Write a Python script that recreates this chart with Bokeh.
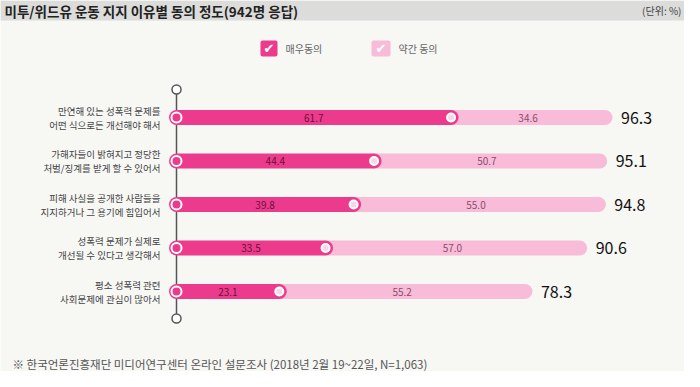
from bokeh.plotting import figure
from bokeh.models import ColumnDataSource, Range1d, Label, BoxAnnotation
from bokeh.core.properties import value
from bokeh.embed import file_html
from bokeh.resources import INLINE

# ---- data ----
reason_line1 = ["만연해 있는 성폭력 문제를", "가해자들이 밝혀지고 정당한", "피해 사실을 공개한 사람들을",
                "성폭력 문제가 실제로", "평소 성폭력 관련"]
reason_line2 = ["어떤 식으로든 개선해야 해서", "처벌/징계를 받게 할 수 있어서", "지지하거나 그 용기에 힘입어서",
                "개선될 수 있다고 생각해서", "사회문제에 관심이 많아서"]
strongly_agree = [61.7, 44.4, 39.8, 33.5, 23.1]
somewhat_agree = [34.6, 50.7, 55.0, 57.0, 55.2]
total_agree = [96.3, 95.1, 94.8, 90.6, 78.3]
series_names = ["매우동의", "약간 동의"]
title_text = "미투/위드유 운동 지지 이유별 동의 정도(942명 응답)"
unit_text = "(단위: %)"
source_text = "※  한국언론진흥재단 미디어연구센터 온라인 설문조사 (2018년 2월 19~22일, N=1,063)"

FONT = "Noto Sans CJK KR"
DARK = "#ec3b8c"
LIGHT = "#f8bcd8"
BG = "#f7f7f4"

W, H = 684, 371
K = 4.45      # px per percent
X0 = 176      # px of zero
Y0 = 117      # px of first row
DY = 43.5     # px between rows

ypos = list(range(len(strongly_agree)))
src = ColumnDataSource(dict(
    y=ypos,
    strong=strongly_agree,
    some=somewhat_agree,
    total=total_agree,
    mid_strong=[s / 2 for s in strongly_agree],
    mid_some=[s + m / 2 for s, m in zip(strongly_agree, somewhat_agree)],
    s_lbl=[f"{v:.1f}" for v in strongly_agree],
    m_lbl=[f"{v:.1f}" for v in somewhat_agree],
    t_lbl=[f"{v:.1f}" for v in total_agree],
    l1=reason_line1,
    l2=reason_line2,
    zero=[0] * len(ypos),
))

p = figure(width=W, height=H, output_backend="svg", toolbar_location=None,
           x_range=Range1d(-X0 / K, (W - X0) / K),
           y_range=Range1d((H - Y0) / DY, -Y0 / DY),
           x_axis_location=None, y_axis_location=None, min_border=0)
p.grid.visible = False
p.outline_line_color = None
p.background_fill_color = BG
p.border_fill_color = BG

# title band
p.add_layout(BoxAnnotation(left=0, right=W, top=H, bottom=H - 20,
                           left_units="screen", right_units="screen",
                           top_units="screen", bottom_units="screen",
                           fill_color="#dcdcda", fill_alpha=1, line_color=None))
p.add_layout(Label(x=4, y=H - 10, x_units="screen", y_units="screen", text=title_text,
                   text_font=FONT, text_font_size="13.5px", text_font_style="bold",
                   text_color="#222222", text_baseline="middle"))
p.add_layout(Label(x=681, y=H - 10, x_units="screen", y_units="screen", text=unit_text,
                   text_font=FONT, text_font_size="10px", text_color="#444444",
                   text_align="right", text_baseline="middle"))

# legend
for (l, r, col, name, tx) in [(260, 277, DARK, series_names[0], 285), (371, 390, LIGHT, series_names[1], 398)]:
    p.add_layout(BoxAnnotation(left=l, right=r, top=H - 40, bottom=H - 56,
                               left_units="screen", right_units="screen",
                               top_units="screen", bottom_units="screen",
                               fill_color=col, fill_alpha=1, line_color=None, border_radius=2))
    p.add_layout(Label(x=(l + r) / 2, y=H - 48, x_units="screen", y_units="screen", text="✔",
                       text_font="DejaVu Sans", text_font_size="13px", text_color="white",
                       text_align="center", text_baseline="middle"))
    p.add_layout(Label(x=tx, y=H - 48, x_units="screen", y_units="screen", text=name,
                       text_font=FONT, text_font_size="10px", text_color="#666666",
                       text_baseline="middle"))

# vertical axis line with end circles
y_top = (89 - Y0) / DY
y_bot = (318 - Y0) / DY
p.segment(x0=0, y0=y_top, x1=0, y1=y_bot, line_color="#555555", line_width=1.5)
p.scatter(x=[0, 0], y=[y_top, y_bot], size=9, marker="circle",
          fill_color="white", line_color="#555555", line_width=1.5)

# bars
p.segment(x0="strong", y0="y", x1="total", y1="y", source=src,
          line_color=LIGHT, line_width=15, line_cap="round")
p.segment(x0="zero", y0="y", x1="strong", y1="y", source=src,
          line_color=DARK, line_width=15, line_cap="round")
p.scatter(x="strong", y="y", source=src, size=8, marker="circle",
          fill_color="#f3d9e5", line_color="white", line_width=2)
p.scatter(x="zero", y="y", source=src, size=10, marker="circle",
          fill_color=DARK, line_color="white", line_width=2)

# value labels
p.text(x="mid_strong", y="y", text="s_lbl", source=src, text_font=value(FONT),
       text_font_size="10px", text_color="#6b0f3a", text_align="center", text_baseline="middle")
p.text(x="mid_some", y="y", text="m_lbl", source=src, text_font=value(FONT),
       text_font_size="10px", text_color="#8b4b6b", text_align="center", text_baseline="middle")
p.text(x="total", y="y", text="t_lbl", source=src, text_font=value(FONT), x_offset=16,
       text_font_size="16px", text_color="#111111", text_align="left", text_baseline="middle")

# category labels
p.text(x="zero", y="y", text="l1", source=src, text_font=value(FONT), x_offset=-16, y_offset=-7,
       text_font_size="9.5px", text_color="#444444", text_align="right", text_baseline="middle")
p.text(x="zero", y="y", text="l2", source=src, text_font=value(FONT), x_offset=-16, y_offset=7,
       text_font_size="9.5px", text_color="#444444", text_align="right", text_baseline="middle")

# footer
p.add_layout(Label(x=12, y=H - 363, x_units="screen", y_units="screen", text=source_text,
                   text_font=FONT, text_font_size="11.5px", text_color="#555555",
                   text_baseline="middle"))

open("out.html", "w").write(file_html(p, INLINE))
